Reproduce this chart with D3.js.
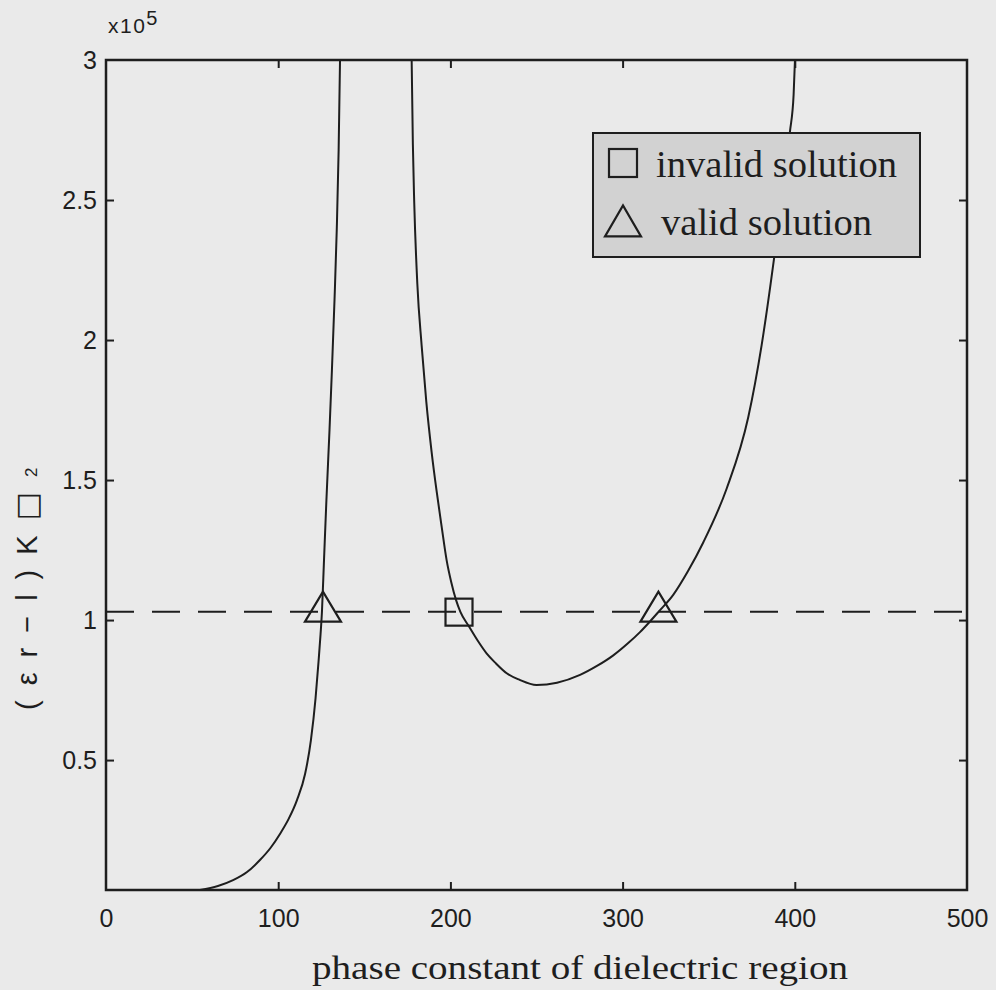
<!DOCTYPE html>
<html>
<head>
<meta charset="utf-8">
<script src="https://cdn.jsdelivr.net/npm/d3@7"></script>
<style>
  html, body { margin: 0; padding: 0; background: #ebebeb; }
  svg { display: block; }
</style>
</head>
<body>
<script>
// ---- data (y values in units of 10^5) ----
const xTicks = [0, 100, 200, 300, 400, 500];
const yTicks = [0.5, 1, 1.5, 2, 2.5, 3];
const yTickLabels = ["0.5", "1", "1.5", "2", "2.5", "3"];
const xDomain = [0, 500];
const yDomain = [0.036, 3];

const curve1X = [54.6, 65.0, 73.8, 81.9, 89.4, 95.5, 101.3, 106.0, 110.9, 115.6, 119.0, 121.7, 123.4, 124.6, 125.4, 126.6, 128.0, 129.8, 131.2, 132.7, 134.0, 135.1, 135.9];
const curve1Y = [0.036, 0.05, 0.071, 0.1, 0.143, 0.186, 0.239, 0.289, 0.357, 0.45, 0.571, 0.721, 0.85, 0.95, 1.029, 1.214, 1.429, 1.679, 1.893, 2.143, 2.393, 2.679, 3.0];

const curve2X = [177.5, 178.2, 179.0, 180.8, 183.3, 186.0, 189.1, 192.0, 195.0, 197.8, 200.5, 203.3, 205.8, 210.9, 216.0, 221.0, 226.0, 232.7, 240.0, 250.0, 261.9, 275.3, 285.1, 294.4, 303.1, 310.1, 315.9, 321.1, 329.4, 338.0, 346.9, 360.4, 373.0, 380.7, 388.0, 392.6, 397.2, 399.3, 400.1];
const curve2Y = [3.0, 2.7, 2.49, 2.2, 1.98, 1.78, 1.60, 1.46, 1.33, 1.214, 1.135, 1.071, 1.029, 0.976, 0.925, 0.881, 0.848, 0.81, 0.787, 0.768, 0.776, 0.804, 0.836, 0.873, 0.917, 0.957, 0.995, 1.031, 1.09, 1.175, 1.278, 1.469, 1.725, 1.98, 2.293, 2.514, 2.745, 2.875, 3.0];

const thresholdY = 1.03;
const validX = [126.0, 320.8];
const validY = [1.03, 1.03];
const invalidX = [205];
const invalidY = [1.03];

const legendLabels = ["invalid solution", "valid solution"];
const xTitle = "phase constant of dielectric region";

// ---- layout ----
const W = 996, H = 990;
const L = 106, R = 967, T = 60, B = 890;
const ink = "#1e1e1e";

const svg = d3.select("body").append("svg").attr("width", W).attr("height", H);
svg.append("rect").attr("width", W).attr("height", H).attr("fill", "#eaeaea");

const x = d3.scaleLinear().domain(xDomain).range([L, R]);
const y = d3.scaleLinear().domain(yDomain).range([B, T]);

svg.append("defs").append("clipPath").attr("id", "plotclip")
  .append("rect").attr("x", L).attr("y", T).attr("width", R - L).attr("height", B - T);

const sans = "'Liberation Sans', Arial, Helvetica, sans-serif";
const serif = "'Liberation Serif', 'Times New Roman', serif";

// axes
const xAxis = d3.axisBottom(x).tickValues(xTicks).tickSizeInner(-8).tickSizeOuter(0).tickPadding(19);
const gx = svg.append("g").attr("transform", `translate(0,${B})`).call(xAxis);
const xTop = d3.axisTop(x).tickValues(xTicks).tickSizeInner(-8).tickSizeOuter(0).tickFormat("");
const gxt = svg.append("g").attr("transform", `translate(0,${T})`).call(xTop);

const yAxis = d3.axisLeft(y).tickValues(yTicks).tickSizeInner(-8).tickSizeOuter(0).tickPadding(9)
  .tickFormat((d, i) => yTickLabels[i]);
const gy = svg.append("g").attr("transform", `translate(${L},0)`).call(yAxis);
const yRight = d3.axisRight(y).tickValues(yTicks).tickSizeInner(-8).tickSizeOuter(0).tickFormat("");
const gyr = svg.append("g").attr("transform", `translate(${R},0)`).call(yRight);

[gx, gxt, gy, gyr].forEach(g => {
  g.select(".domain").remove();
  g.selectAll(".tick line").attr("stroke", ink).attr("stroke-width", 2);
  g.selectAll("text").attr("fill", ink).style("font-family", sans).style("font-size", "25px");
});
gx.selectAll(".tick line").filter(d => d === 0 || d === 500).remove();
gxt.selectAll(".tick line").filter(d => d === 0 || d === 500).remove();
gy.selectAll(".tick line").filter(d => d === 3).remove();
gyr.selectAll(".tick line").filter(d => d === 3).remove();

// exponent label
const ex = svg.append("text").attr("x", 108).attr("y", 33).attr("fill", ink)
  .style("font-family", sans).style("font-size", "21px").style("letter-spacing", "1.5px");
ex.append("tspan").text("x10");
ex.append("tspan").attr("dy", -8).style("font-size", "20px").text("5");

// dashed threshold line
svg.append("line")
  .attr("x1", x(xDomain[0])).attr("x2", x(xDomain[1]))
  .attr("y1", y(thresholdY)).attr("y2", y(thresholdY))
  .attr("stroke", ink).attr("stroke-width", 2).attr("stroke-dasharray", "28,18");

// curves
const line = d3.line().x(d => x(d[0])).y(d => y(d[1])).curve(d3.curveMonotoneX);
const plot = svg.append("g").attr("clip-path", "url(#plotclip)");
plot.append("path").datum(curve1X.map((v, i) => [v, curve1Y[i]]))
  .attr("d", line).attr("fill", "none").attr("stroke", ink).attr("stroke-width", 2);
plot.append("path").datum(curve2X.map((v, i) => [v, curve2Y[i]]))
  .attr("d", line).attr("fill", "none").attr("stroke", ink).attr("stroke-width", 2);

// markers
const tri = (cx, cy, w, h) => `M${cx - w / 2},${cy + h / 3}L${cx + w / 2},${cy + h / 3}L${cx},${cy - 2 * h / 3}Z`;
svg.append("g").selectAll("path").data(validX.map((v, i) => [v, validY[i]])).join("path")
  .attr("d", d => tri(x(d[0]), y(d[1]), 36, 30))
  .attr("fill", "none").attr("stroke", ink).attr("stroke-width", 2.2);
svg.append("g").selectAll("rect").data(invalidX.map((v, i) => [v, invalidY[i]])).join("rect")
  .attr("x", d => x(d[0]) - 13.5).attr("y", d => y(d[1]) - 13)
  .attr("width", 27).attr("height", 27)
  .attr("fill", "none").attr("stroke", ink).attr("stroke-width", 2.2);

// frame
svg.append("rect").attr("x", L).attr("y", T).attr("width", R - L).attr("height", B - T)
  .attr("fill", "none").attr("stroke", ink).attr("stroke-width", 2.5);

// legend
const lg = svg.append("g");
lg.append("rect").attr("x", 593).attr("y", 133).attr("width", 327).attr("height", 124)
  .attr("fill", "#d2d2d2").attr("stroke", ink).attr("stroke-width", 2);
lg.append("rect").attr("x", 609).attr("y", 149).attr("width", 28).attr("height", 28)
  .attr("fill", "none").attr("stroke", ink).attr("stroke-width", 2.2);
lg.append("path").attr("d", tri(623, 226, 36, 31))
  .attr("fill", "none").attr("stroke", ink).attr("stroke-width", 2.2);
lg.append("text").attr("x", 656).attr("y", 177).attr("fill", ink)
  .style("font-family", serif).style("font-size", "37px")
  .attr("textLength", 241).attr("lengthAdjust", "spacingAndGlyphs").text(legendLabels[0]);
lg.append("text").attr("x", 661).attr("y", 235).attr("fill", ink)
  .style("font-family", serif).style("font-size", "37px")
  .attr("textLength", 211).attr("lengthAdjust", "spacingAndGlyphs").text(legendLabels[1]);

// x title
svg.append("text").attr("x", 312).attr("y", 979).attr("fill", ink)
  .style("font-family", serif).style("font-size", "33px")
  .attr("textLength", 536).attr("lengthAdjust", "spacingAndGlyphs").text(xTitle);

// y title (rotated)
const yt = svg.append("text").attr("transform", "translate(37,710) rotate(-90)")
  .attr("fill", ink).style("font-family", sans).style("font-size", "29px")
  .style("letter-spacing", "15px");
yt.append("tspan").text("(εr−l)K");
yt.append("tspan").style("font-family", "'DejaVu Sans', sans-serif").style("font-size", "30px").text("□");
yt.append("tspan").style("font-size", "17px").text("2");
</script>
</body>
</html>
